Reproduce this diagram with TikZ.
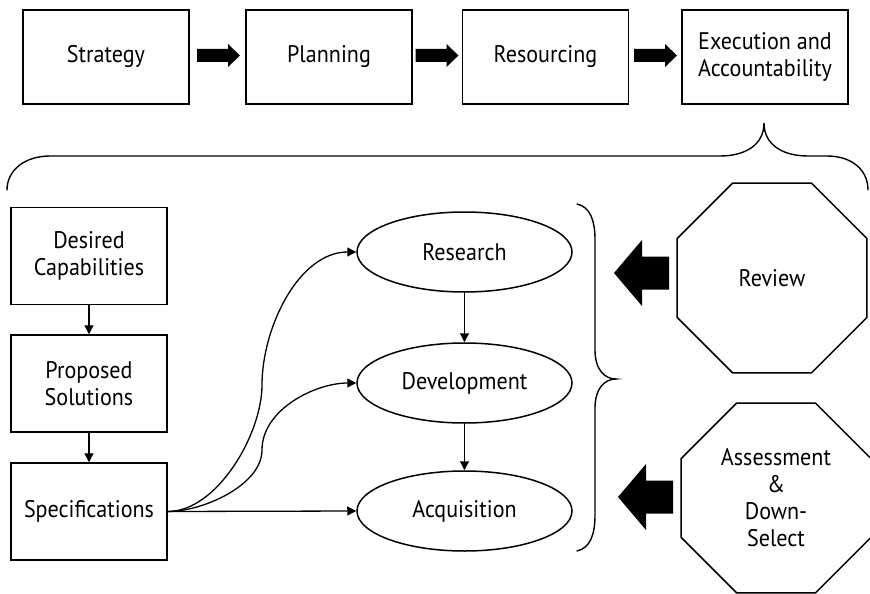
\documentclass[tikz,border=0pt]{standalone}
\usepackage{fontspec}
\setmainfont{PT Sans}[FakeStretch=0.92]
\usetikzlibrary{shapes.geometric,arrows.meta}

\begin{document}
\begin{tikzpicture}[x=1pt,y=-1pt,
  lbl/.style={font=\fontsize{24}{27}\selectfont,align=center,text=black},
  topbox/.style={lbl,draw,line width=1.5pt,minimum width=166pt,minimum height=94pt,inner sep=2pt},
  sidebox/.style={lbl,draw,line width=1.5pt,minimum width=156pt,minimum height=97pt,inner sep=2pt},
  oval/.style={lbl,draw,ellipse,line width=1.5pt,minimum width=215pt,minimum height=80pt,inner sep=0pt},
  octa/.style={lbl,draw,regular polygon,regular polygon sides=8,line width=1.5pt,minimum size=205.6pt,inner sep=0pt},
  link/.style={line width=1.3pt,-{Triangle[length=9pt,width=9pt]}},
  bracepath/.style={line width=1.4pt,line cap=round},
  rarrow/.pic={\fill (0,-6.5) -- (31,-6.5) -- (31,-11.5) -- (43,0) -- (31,11.5) -- (31,6.5) -- (0,6.5) -- cycle;},
  larrow/.pic={\fill (0,0) -- (28,-33) -- (28,-16.5) -- (55,-16.5) -- (55,16.5) -- (28,16.5) -- (28,33) -- cycle;}
]
\useasboundingbox (0,0) rectangle (870,594);

% top process chain
\node[topbox] (strategy) at (106,57) {Strategy};
\node[topbox] (planning) at (329,57) {Planning};
\node[topbox] (resourcing) at (545.5,57) {Resourcing};
\node[topbox] (execution) at (765,57) {Execution and\\Accountability};

\pic at (197,55.5) {rarrow};
\pic at (415.5,55.5) {rarrow};
\pic at (634,55.5) {rarrow};

% wide brace under the chain
\draw[bracepath] (7,190) .. controls (7,170) and (25,156) .. (50,156)
  -- (720,156) .. controls (745,156) and (764,145) .. (764,123)
  .. controls (764,145) and (783,156) .. (808,156)
  -- (827,156) .. controls (852,156) and (868,170) .. (868,190);

% left column
\node[sidebox] (desired) at (89,256) {Desired\\Capabilities};
\node[sidebox] (proposed) at (89,383.5) {Proposed\\Solutions};
\node[sidebox] (specs) at (89,511.5) {Specifications};

\draw[link] (desired) -- (proposed);
\draw[link] (proposed) -- (specs);

% phases
\node[oval] (research) at (464.5,252) {Research};
\node[oval] (development) at (464.5,383) {Development};
\node[oval] (acquisition) at (464.5,511) {Acquisition};

\draw[link] (research) -- (development);
\draw[link] (development) -- (acquisition);

\coordinate (bendR) at (262,385);
\coordinate (bendD) at (262,450);
\draw[link] (specs.east) to[out=0,in=-90,looseness=0.8] (bendR) to[out=90,in=180,looseness=0.9] (research.west);
\draw[link] (specs.east) to[out=0,in=-90,looseness=0.8] (bendD) to[out=90,in=180,looseness=0.9] (development.west);
\draw[link] (specs.east) -- (acquisition.west);

% brace grouping the phases
\draw[bracepath] (577,204) .. controls (590,207) and (595,220) .. (595,240)
  -- (595,350) .. controls (595,370) and (605,379) .. (616,379)
  .. controls (605,379) and (595,388) .. (595,408)
  -- (595,515) .. controls (595,535) and (590,548) .. (577,551);

% review gates
\node[octa] (review) at (772,278) {Review};
\node[octa] (assess) at (776,498) {Assessment\\\&\\Down-\\Select};

\pic at (614,273) {larrow};
\pic at (618,497) {larrow};
\end{tikzpicture}
\end{document}
